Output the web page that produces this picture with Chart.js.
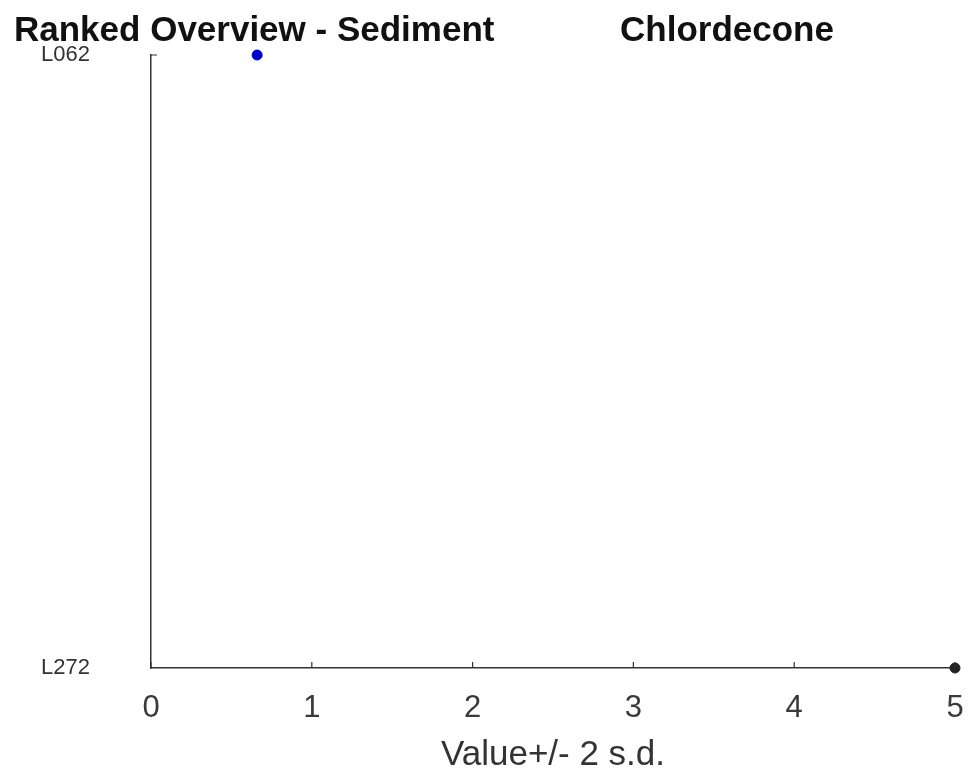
<!DOCTYPE html>
<html>
<head>
<meta charset="utf-8">
<script src="https://cdn.jsdelivr.net/npm/chart.js@4.4.1/dist/chart.umd.min.js"></script>
<style>
  html, body { margin: 0; padding: 0; background: #fff; }
  #wrap { width: 969px; height: 778px; }
</style>
</head>
<body>
<div id="wrap"><canvas id="chart" width="969" height="778"></canvas></div>
<script>
// labs ranked top to bottom, with the value read for each
const labs = ["L062", "L272"];
const values = [0.66, 5.0];
const pointColors = ["#0000c8", "#222222"];
const xTicks = [0, 1, 2, 3, 4, 5];

const titleLeft = "Ranked Overview - Sediment";
const titleRight = "Chlordecone";
const xTitle = "Value+/- 2 s.d.";

const fontFam = "'Liberation Sans', Arial, sans-serif";

// title and inward tick marks, like the original plot
const extras = {
  id: "extras",
  afterDraw(c) {
    const ctx = c.ctx;
    const xs = c.scales.x, ys = c.scales.y;
    ctx.save();
    ctx.fillStyle = "#111";
    ctx.font = "bold 35px " + fontFam;
    ctx.textBaseline = "alphabetic";
    ctx.textAlign = "left";
    ctx.fillText(titleLeft, 14, 41);
    ctx.fillText(titleRight, 620, 41);

    ctx.strokeStyle = "#333";
    ctx.lineWidth = 1.2;
    ctx.beginPath();
    xTicks.forEach(t => {
      const px = xs.getPixelForValue(t);
      ctx.moveTo(px, ys.bottom);
      ctx.lineTo(px, ys.bottom - 6);
    });
    const py = ys.getPixelForValue(0);
    ctx.moveTo(xs.left, py);
    ctx.lineTo(xs.left + 6, py);
    ctx.stroke();
    ctx.restore();
  }
};

new Chart(document.getElementById("chart"), {
  type: "scatter",
  data: {
    datasets: [{
      data: labs.map((l, i) => ({ x: values[i], y: l })),
      pointBackgroundColor: pointColors,
      pointBorderColor: pointColors,
      pointRadius: 5,
      clip: false
    }]
  },
  options: {
    responsive: false,
    animation: false,
    layout: { padding: { top: 55, right: 14, left: 0, bottom: 0 } },
    plugins: {
      legend: { display: false },
      tooltip: { enabled: false }
    },
    scales: {
      x: {
        type: "linear",
        min: 0,
        max: 5,
        afterFit: s => { s.height = 110; s.paddingLeft = 0; s.paddingRight = 0; },
        afterBuildTicks: s => { s.ticks = xTicks.map(v => ({ value: v })); },
        grid: { display: false, drawTicks: false },
        border: { display: true, color: "#333", width: 1.5 },
        ticks: {
          color: "#3a3a3a",
          padding: 22,
          font: { family: fontFam, size: 31 }
        },
        title: {
          display: true,
          text: xTitle,
          color: "#333",
          padding: { top: 0, bottom: 2 },
          font: { family: fontFam, size: 35 }
        }
      },
      y: {
        type: "category",
        labels: labs,
        offset: false,
        afterFit: s => { s.width = 151; s.paddingTop = 0; s.paddingBottom = 0; },
        grid: { display: false, drawTicks: false },
        border: { display: true, color: "#333", width: 1.5 },
        ticks: {
          color: "#333",
          padding: 61,
          font: { family: fontFam, size: 22 }
        }
      }
    }
  },
  plugins: [extras]
});
</script>
</body>
</html>
